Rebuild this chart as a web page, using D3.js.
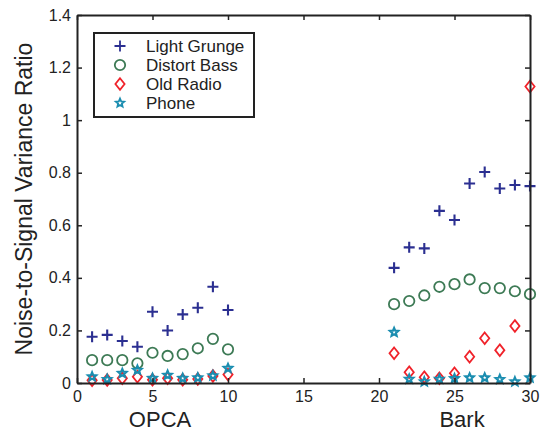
<!DOCTYPE html>
<html>
<head>
<meta charset="utf-8">
<title>Noise-to-Signal Variance Ratio</title>
<script src="https://cdn.jsdelivr.net/npm/d3@7"></script>
<style>
    body { margin: 0; background: #fff; }
    text { font-family: "Liberation Sans", Arial, sans-serif; fill: #222; }
</style>
</head>
<body>
<script>
// x positions: OPCA runs 1..10, Bark runs 21..30
var xs = [1, 2, 3, 4, 5, 6, 7, 8, 9, 10, 21, 22, 23, 24, 25, 26, 27, 28, 29, 30];

var lightGrunge = [0.176, 0.183, 0.160, 0.138, 0.271, 0.200, 0.261, 0.286, 0.366, 0.278,
                   0.438, 0.516, 0.512, 0.655, 0.620, 0.759, 0.803, 0.740, 0.753, 0.749];
var distortBass = [0.087, 0.087, 0.087, 0.075, 0.115, 0.103, 0.110, 0.132, 0.168, 0.128,
                   0.300, 0.312, 0.333, 0.366, 0.376, 0.394, 0.361, 0.361, 0.349, 0.338];
var oldRadio    = [0.010, 0.011, 0.018, 0.024, 0.012, 0.018, 0.012, 0.015, 0.027, 0.032,
                   0.113, 0.041, 0.022, 0.018, 0.037, 0.100, 0.170, 0.125, 0.217, 1.128];
var phone       = [0.024, 0.014, 0.037, 0.049, 0.018, 0.030, 0.018, 0.020, 0.028, 0.056,
                   0.193, 0.015, 0.005, 0.015, 0.017, 0.020, 0.020, 0.014, 0.005, 0.020];

var seriesNames = ["Light Grunge", "Distort Bass", "Old Radio", "Phone"];
var xTicks = [0, 5, 10, 15, 20, 25, 30];
var yTicks = [0, 0.2, 0.4, 0.6, 0.8, 1, 1.2, 1.4];
var groupLabels = [{name: "OPCA", x: 5.5}, {name: "Bark", x: 25.5}];

var W = 557, H = 433;
var margin = {top: 15, right: 27, bottom: 50, left: 77};

var svg = d3.select("body").append("svg")
    .attr("width", W)
    .attr("height", H);

var x = d3.scaleLinear().domain([0, 30]).range([margin.left, W - margin.right]);
var y = d3.scaleLinear().domain([0, 1.4]).range([H - margin.bottom, margin.top]);

var series = [
    {name: seriesNames[0], values: lightGrunge, color: "#2b2f91", shape: "plus"},
    {name: seriesNames[1], values: distortBass, color: "#3d7a55", shape: "circle"},
    {name: seriesNames[2], values: oldRadio,    color: "#f0222a", shape: "diamond"},
    {name: seriesNames[3], values: phone,       color: "#1a8db0", shape: "star"}
];

// marker outlines, all centred on 0,0
function markerPath(shape) {
    if (shape == "plus") return "M-5.5,0H5.5M0,-5.5V5.5";
    if (shape == "circle") return "M5.2,0A5.2,5.2 0 1,1 -5.2,0A5.2,5.2 0 1,1 5.2,0Z";
    if (shape == "diamond") return "M0,-5.8L4.6,0L0,5.8L-4.6,0Z";
    // pentagram
    var p = [], ro = 4.4, ri = 2;
    for (var k = 0; k < 10; k++) {
        var r = k % 2 ? ri : ro, a = -Math.PI / 2 + k * Math.PI / 5;
        p.push([r * Math.cos(a), r * Math.sin(a)]);
    }
    return "M" + p.join("L") + "Z";
}

// plot box
var plotG = svg.append("g");

var series_g = plotG.selectAll("g.series")
    .data(series)
    .enter().append("g")
    .attr("class", "series");

series_g.each(function (s) {
    d3.select(this).selectAll("path")
        .data(s.values)
        .enter().append("path")
        .attr("d", markerPath(s.shape))
        .attr("transform", function (d, i) { return "translate(" + x(xs[i]) + "," + y(d) + ")"; })
        .attr("fill", "none")
        .attr("stroke", s.color)
        .attr("stroke-width", s.shape == "circle" || s.shape == "diamond" ? 1.8 : 2.1);
});

// axes
var tickLen = 5;
var xAxis = svg.append("g")
    .attr("transform", "translate(0," + y(0) + ")")
    .call(d3.axisBottom(x).tickValues(xTicks).tickSizeInner(-tickLen).tickSizeOuter(0).tickPadding(8));
var yAxis = svg.append("g")
    .attr("transform", "translate(" + x(0) + ",0)")
    .call(d3.axisLeft(y).tickValues(yTicks).tickFormat(d3.format("~g")).tickSizeInner(-tickLen).tickSizeOuter(0).tickPadding(6));
svg.append("g")
    .attr("transform", "translate(0," + y(1.4) + ")")
    .call(d3.axisTop(x).tickValues(xTicks).tickFormat("").tickSizeInner(-tickLen).tickSizeOuter(0));
svg.append("g")
    .attr("transform", "translate(" + x(30) + ",0)")
    .call(d3.axisRight(y).tickValues(yTicks).tickFormat("").tickSizeInner(-tickLen).tickSizeOuter(0));

svg.selectAll(".domain").attr("stroke", "#222").attr("stroke-width", 2);
svg.selectAll(".tick line").attr("stroke", "#222").attr("stroke-width", 1.5);
svg.selectAll(".tick text").style("font-size", "16px").attr("fill", "#222");

// group labels under the x axis
svg.selectAll("text.group")
    .data(groupLabels)
    .enter().append("text")
    .attr("class", "group")
    .attr("x", function (d) { return x(d.x); })
    .attr("y", 427)
    .attr("text-anchor", "middle")
    .style("font-size", "22px")
    .text(function (d) { return d.name; });

// y title
svg.append("text")
    .attr("transform", "translate(32," + ((y(0) + y(1.4)) / 2) + ") rotate(-90)")
    .attr("text-anchor", "middle")
    .style("font-size", "23px")
    .text("Noise-to-Signal Variance Ratio");

// legend
var legend = svg.append("g");
legend.append("rect")
    .attr("x", 94).attr("y", 33)
    .attr("width", 160).attr("height", 84)
    .attr("fill", "#fff")
    .attr("stroke", "#222")
    .attr("stroke-width", 2);

var rows = legend.selectAll("g.row")
    .data(series)
    .enter().append("g")
    .attr("class", "row")
    .attr("transform", function (d, i) { return "translate(0," + (46 + i * 19) + ")"; });
rows.append("path")
    .attr("d", function (d) { return markerPath(d.shape); })
    .attr("transform", "translate(120,0)")
    .attr("fill", "none")
    .attr("stroke", function (d) { return d.color; })
    .attr("stroke-width", 1.8);
rows.append("text")
    .attr("x", 146)
    .attr("dy", "0.36em")
    .style("font-size", "17px")
    .text(function (d) { return d.name; });
</script>
</body>
</html>
